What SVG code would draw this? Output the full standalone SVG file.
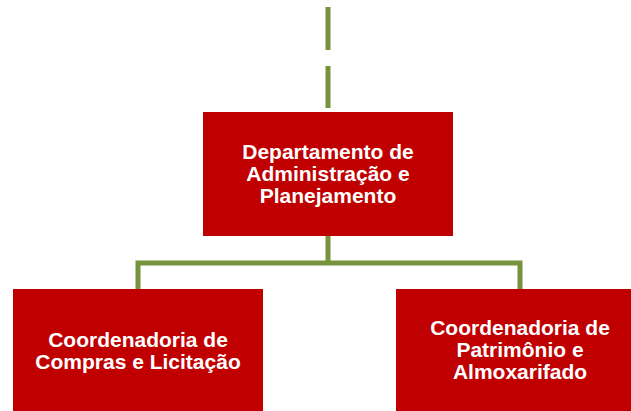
<svg xmlns="http://www.w3.org/2000/svg" width="631" height="411" viewBox="0 0 631 411">
<style>
.box{fill:#C00000}
.t{font-family:"Liberation Sans",Arial,sans-serif;font-weight:bold;font-size:21px;fill:#fff;text-anchor:middle}
.c{fill:none;stroke:#77933C;stroke-width:5}
</style>
<rect width="631" height="411" fill="#fff"/>
<g id="connectors">
<path class="c" d="M328 7V50M328 66V108"/>
<path class="c" d="M328 236V263H138V289M328 263H520V289"/>
</g>
<g id="dept">
<rect class="box" x="203" y="112" width="250" height="124"/>
<text class="t" x="328" y="159">Departamento de</text>
<text class="t" x="328" y="181">Administração e</text>
<text class="t" x="328" y="203">Planejamento</text>
</g>
<g id="compras">
<rect class="box" x="13" y="289" width="250" height="122"/>
<text class="t" x="138" y="347">Coordenadoria de</text>
<text class="t" x="138" y="369">Compras e Licitação</text>
</g>
<g id="patrimonio">
<rect class="box" x="396" y="289" width="235" height="122"/>
<text class="t" x="520" y="335">Coordenadoria de</text>
<text class="t" x="520" y="357">Patrimônio e</text>
<text class="t" x="520" y="379">Almoxarifado</text>
</g>
</svg>
